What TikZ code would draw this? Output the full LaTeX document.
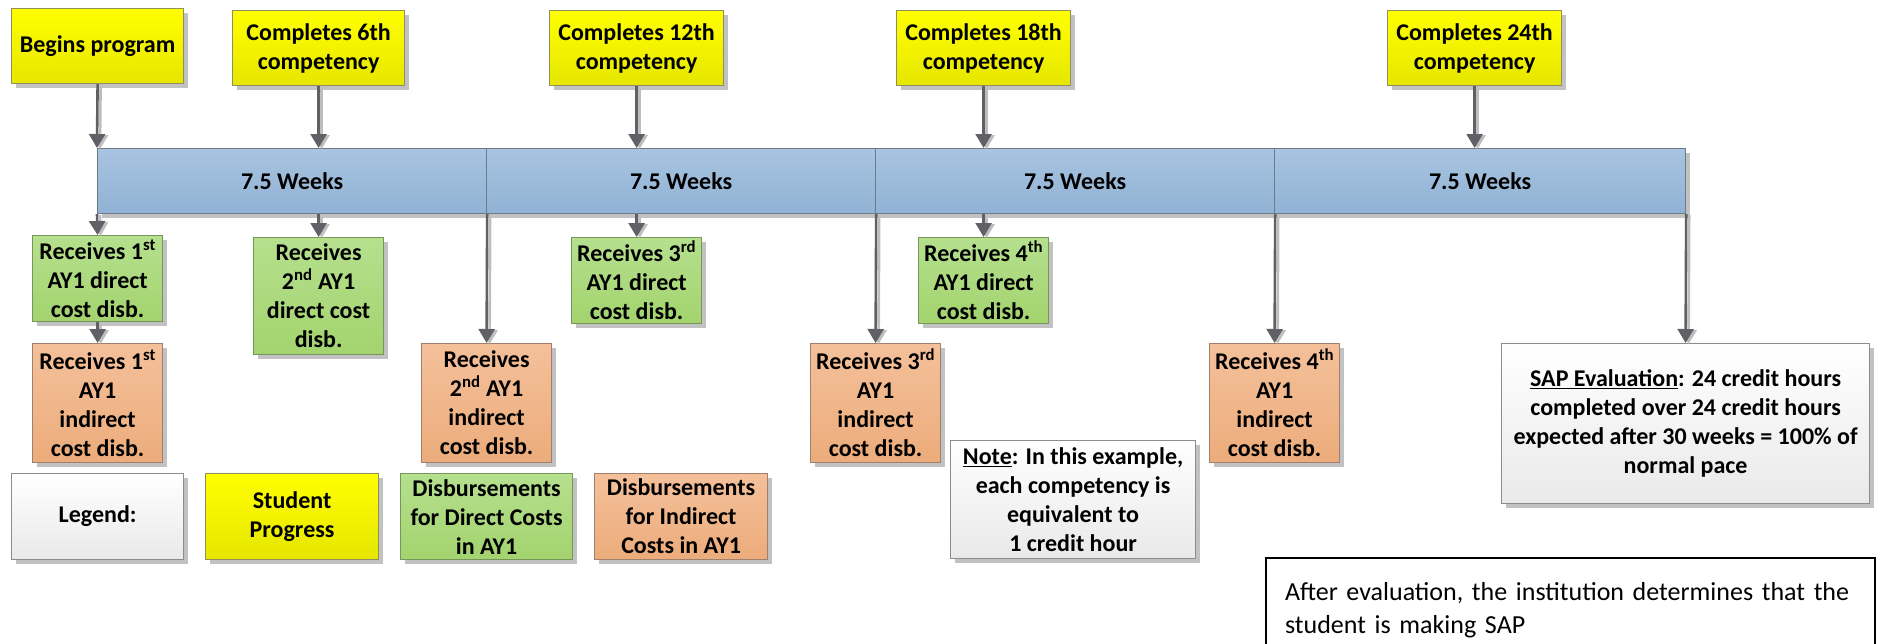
\documentclass[tikz,border=0pt]{standalone}
\usepackage{fontspec}
\setmainfont{Carlito}
\usetikzlibrary{arrows.meta,shadows}
\definecolor{yelT}{HTML}{FFFF00}
\definecolor{yelB}{HTML}{E6E600}
\definecolor{yelD}{HTML}{8E8E5E}
\definecolor{bluT}{HTML}{A7C4E0}
\definecolor{bluB}{HTML}{91B2D5}
\definecolor{bluD}{HTML}{6E7A88}
\definecolor{grnT}{HTML}{B5E08E}
\definecolor{grnB}{HTML}{A3D36E}
\definecolor{grnD}{HTML}{77975A}
\definecolor{orgT}{HTML}{F4C09A}
\definecolor{orgB}{HTML}{ECAC7B}
\definecolor{orgD}{HTML}{9E806C}
\definecolor{whtB}{HTML}{E9E9E9}
\definecolor{whtD}{HTML}{8C8C8C}
\definecolor{arrC}{HTML}{606066}
\definecolor{arrS}{HTML}{BEBEBE}
\newcommand\fsz{\fontsize{24}{29}\selectfont\bfseries}
\newcommand\conn[2]{\draw[arrsh] (#1) -- (#2); \draw[arr] (#1) -- (#2);}
\tikzset{
  base/.style={rectangle, inner sep=0pt, line width=1.2pt, align=center, font=\fsz,
    anchor=north west, drop shadow={shadow xshift=4pt, shadow yshift=-4pt, fill=black!24, opacity=1}},
  yel/.style={base, draw=yelD, top color=yelT, bottom color=yelB},
  bar/.style={base, draw=bluD, top color=bluT, bottom color=bluB},
  grn/.style={base, draw=grnD, top color=grnT, bottom color=grnB},
  org/.style={base, draw=orgD, top color=orgT, bottom color=orgB},
  wht/.style={base, draw=whtD, top color=white, bottom color=whtB},
  arr/.style={draw=arrC, line width=2.6pt, -{Triangle[width=16pt,length=14pt]}},
  arrsh/.style={draw=arrS, line width=2.6pt, -{Triangle[width=16pt,length=14pt]},
    transform canvas={xshift=3pt,yshift=-1pt}},
}
\begin{document}
\begin{tikzpicture}[x=1pt,y=-1pt]
\useasboundingbox (0,0) rectangle (1877,643);
\clip (0,0) rectangle (1877,643);
% top: student progress
\node[yel, minimum width=172pt, minimum height=75pt] (b0) at (11,8) {Begins program};
\node[yel, minimum width=172pt, minimum height=75pt] (c6) at (232,10) {Completes 6th\\competency};
\node[yel, minimum width=174pt, minimum height=75pt] (c12) at (549,10) {Completes 12th\\competency};
\node[yel, minimum width=174pt, minimum height=75pt] (c18) at (896,10) {Completes 18th\\competency};
\node[yel, minimum width=174pt, minimum height=75pt] (c24) at (1387,10) {Completes 24th\\competency};
% time bar
\node[bar, minimum width=389pt, minimum height=65pt] (w1) at (97,148) {7.5 Weeks};
\node[bar, minimum width=389pt, minimum height=65pt] (w2) at (486,148) {7.5 Weeks};
\node[bar, minimum width=399pt, minimum height=65pt] (w3) at (875,148) {7.5 Weeks};
\node[bar, minimum width=411pt, minimum height=65pt] (w4) at (1274,148) {7.5 Weeks};
% disbursements
\node[grn, minimum width=130pt, minimum height=86pt] (d1) at (32,235) {Receives 1\textsuperscript{st}\\AY1 direct\\cost disb.};
\node[org, minimum width=130pt, minimum height=119pt] (i1) at (32,343) {Receives 1\textsuperscript{st}\\AY1\\indirect\\cost disb.};
\node[grn, minimum width=130pt, minimum height=117pt] (d2) at (253,237) {Receives\\2\textsuperscript{nd} AY1\\direct cost\\disb.};
\node[org, minimum width=130pt, minimum height=119pt] (i2) at (421,343) {Receives\\2\textsuperscript{nd} AY1\\indirect\\cost disb.};
\node[grn, minimum width=130pt, minimum height=86pt] (d3) at (571,237) {Receives 3\textsuperscript{rd}\\AY1 direct\\cost disb.};
\node[org, minimum width=130pt, minimum height=119pt] (i3) at (810,343) {Receives 3\textsuperscript{rd}\\AY1\\indirect\\cost disb.};
\node[grn, minimum width=130pt, minimum height=86pt] (d4) at (918,237) {Receives 4\textsuperscript{th}\\AY1 direct\\cost disb.};
\node[org, minimum width=130pt, minimum height=119pt] (i4) at (1209,343) {Receives 4\textsuperscript{th}\\AY1\\indirect\\cost disb.};
\node[wht, minimum width=368pt, minimum height=160pt] (sap) at (1501,343) {\underline{SAP Evaluation}: 24 credit hours\\completed over 24 credit hours\\expected after 30 weeks = 100\% of\\normal pace};
% note
\node[wht, minimum width=245pt, minimum height=118pt] (note) at (950,440) {\underline{Note}: In this example,\\each competency is\\equivalent to\\1 credit hour};
% legend
\node[wht, minimum width=172pt, minimum height=86pt] (lg) at (11,473) {Legend:};
\node[yel, minimum width=173pt, minimum height=86pt] (lsp) at (205,473) {Student\\Progress};
\node[grn, minimum width=172pt, minimum height=86pt] (ldc) at (400,473) {Disbursements\\for Direct Costs\\in AY1};
\node[org, minimum width=173pt, minimum height=86pt] (lic) at (594,473) {Disbursements\\for Indirect\\Costs in AY1};
% conclusion
\node[draw=black, line width=2pt, anchor=north west, inner xsep=19pt, inner ysep=0pt,
  minimum width=609pt, minimum height=104pt, text width=571pt, align=left,
  font=\fontsize{26}{33.5}\selectfont] (fin) at (1265,557)
  {After evaluation, the institution determines that the\\student is making SAP};
% connectors
\conn{b0.south}{w1.north west}
\conn{c6.south}{c6.south |- w1.north}
\conn{c12.south}{c12.south |- w2.north}
\conn{c18.south}{c18.south |- w3.north}
\conn{c24.south}{c24.south |- w4.north}
\conn{w1.south west}{d1.north}
\conn{d1.south}{i1.north}
\conn{d2.north |- w1.south}{d2.north}
\conn{w1.south east}{i2.north}
\conn{d3.north |- w2.south}{d3.north}
\conn{w2.south east}{i3.north}
\conn{d4.north |- w3.south}{d4.north}
\conn{w3.south east}{i4.north}
\conn{w4.south east}{sap.north}
\end{tikzpicture}
\end{document}
